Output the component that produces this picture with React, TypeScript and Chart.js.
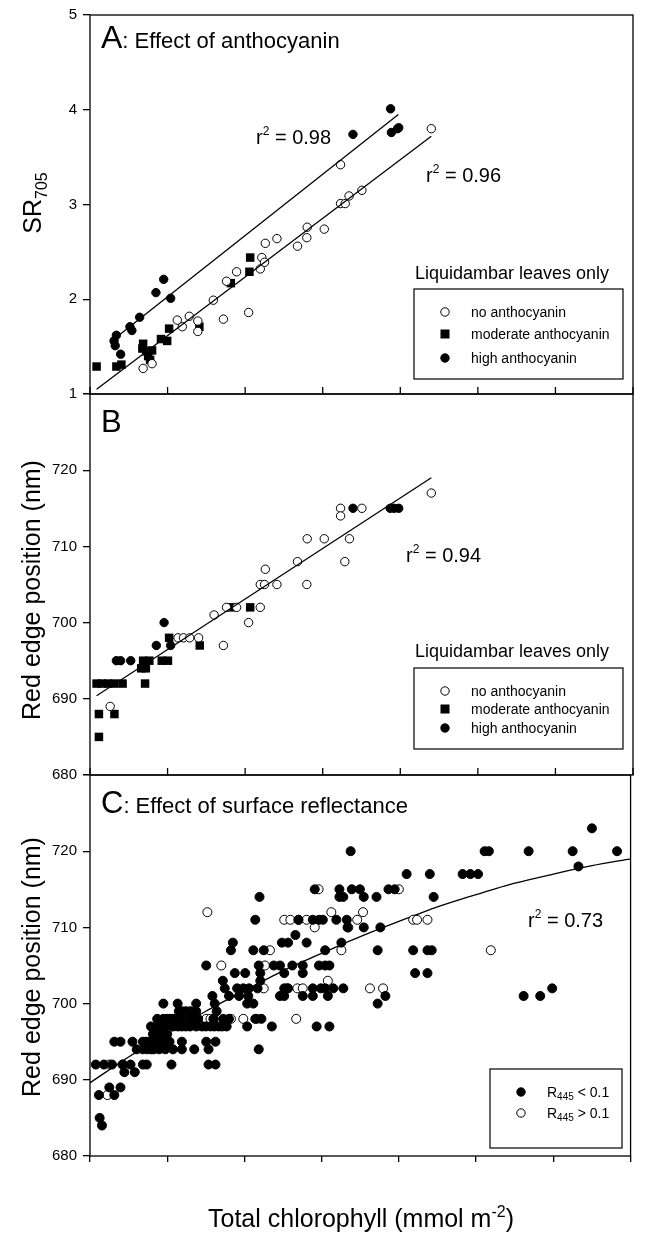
import React, { useEffect, useRef } from "react";
import { Chart, registerables } from "chart.js";
Chart.register(...registerables);

const FONT = '"Liberation Sans", Arial, Helvetica, sans-serif';

// ---------- tick labels ----------
const xTickValues = [0, 0.2, 0.4, 0.6, 0.8, 1.0, 1.2, 1.4];

// ---------- Panel A: SR705 vs chlorophyll ----------
const aNone: [number, number][] = [
  [0.137, 1.27], [0.16, 1.32], [0.225, 1.78], [0.238, 1.71], [0.256, 1.82], [0.278, 1.77], [0.278, 1.66],
  [0.318, 1.99], [0.344, 1.79], [0.352, 2.19], [0.378, 2.29], [0.409, 1.86], [0.439, 2.32], [0.443, 2.44],
  [0.45, 2.39], [0.452, 2.59], [0.482, 2.64], [0.535, 2.56], [0.559, 2.65], [0.56, 2.76], [0.604, 2.74],
  [0.646, 3.42], [0.646, 3.01], [0.658, 3.01], [0.668, 3.09], [0.701, 3.15], [0.88, 3.8],
];
const aModerate: [number, number][] = [
  [0.017, 1.29], [0.068, 1.29], [0.081, 1.31], [0.135, 1.48], [0.137, 1.53], [0.145, 1.45], [0.15, 1.4],
  [0.155, 1.36], [0.16, 1.46], [0.183, 1.58], [0.199, 1.56], [0.204, 1.69], [0.282, 1.71], [0.363, 2.17],
  [0.411, 2.29], [0.413, 2.44],
];
const aHigh: [number, number][] = [
  [0.062, 1.56], [0.065, 1.51], [0.068, 1.62], [0.079, 1.42], [0.103, 1.71], [0.108, 1.67], [0.128, 1.81],
  [0.17, 2.07], [0.19, 2.21], [0.208, 2.01], [0.678, 3.74], [0.775, 4.01], [0.777, 3.76], [0.793, 3.8],
  [0.796, 3.81],
];
const aFitHigh: [number, number][] = [[0.068, 1.6], [0.795, 3.95]];
const aFitNone: [number, number][] = [[0.017, 1.05], [0.88, 3.72]];

// ---------- Panel B: red edge vs chlorophyll (Liquidambar) ----------
const bNone: [number, number][] = [
  [0.052, 689], [0.227, 698], [0.241, 698], [0.257, 698], [0.28, 698], [0.32, 701], [0.344, 697],
  [0.352, 702], [0.378, 702], [0.409, 700], [0.439, 702], [0.439, 705], [0.45, 705], [0.452, 707],
  [0.482, 705], [0.535, 708], [0.559, 705], [0.56, 711], [0.604, 711], [0.646, 715], [0.646, 714],
  [0.657, 708], [0.669, 711], [0.701, 715], [0.88, 717],
];
const bModerate: [number, number][] = [
  [0.023, 688], [0.023, 685], [0.063, 688], [0.017, 692], [0.031, 692], [0.047, 692], [0.063, 692],
  [0.084, 692], [0.132, 694], [0.144, 694], [0.137, 695], [0.153, 695], [0.185, 695], [0.201, 695],
  [0.142, 692], [0.204, 698], [0.283, 697], [0.363, 702], [0.413, 702],
];
const bHigh: [number, number][] = [
  [0.068, 695], [0.079, 695], [0.105, 695], [0.171, 697], [0.191, 700], [0.208, 697], [0.678, 715],
  [0.774, 715], [0.784, 715], [0.796, 715],
];
const bFit: [number, number][] = [[0.017, 690.4], [0.88, 719.0]];

// ---------- Panel C: red edge vs chlorophyll (all leaves) ----------
const cLow: [number, number][] = [
  [0.675, 720], [1.022, 720], [1.033, 720], [1.136, 720], [1.25, 720], [1.365, 720], [1.3, 723], [1.265, 718],
  [0.82, 717], [0.88, 717], [0.965, 717], [0.985, 717], [1.005, 717],
  [0.582, 715], [0.646, 715], [0.678, 715], [0.699, 715], [0.773, 715], [0.789, 715],
  [0.439, 714], [0.646, 714], [0.656, 714], [0.709, 714], [0.742, 714], [0.89, 714],
  [0.428, 711], [0.54, 711], [0.577, 711], [0.593, 711], [0.603, 711], [0.638, 711], [0.665, 711],
  [0.667, 710], [0.709, 710], [0.752, 710], [0.532, 709],
  [0.37, 708], [0.497, 708], [0.513, 708], [0.561, 708], [0.651, 708],
  [0.365, 707], [0.423, 707], [0.45, 707], [0.609, 707], [0.745, 707], [0.837, 707], [0.874, 707], [0.885, 707],
  [0.301, 705], [0.437, 705], [0.476, 705], [0.492, 705], [0.524, 705], [0.551, 705], [0.593, 705], [0.609, 705], [0.62, 705],
  [0.375, 704], [0.402, 704], [0.441, 704], [0.503, 704], [0.551, 704], [0.842, 704], [0.874, 704],
  [0.344, 703], [0.441, 703],
  [0.349, 702], [0.381, 702], [0.397, 702], [0.412, 702], [0.434, 702], [0.503, 702], [0.513, 702], [0.577, 702],
  [0.598, 702], [0.609, 702], [0.63, 702], [0.656, 702], [1.197, 702],
  [0.317, 701], [0.36, 701], [0.386, 701], [0.41, 701], [0.492, 701], [0.503, 701], [0.551, 701], [0.577, 701],
  [0.616, 701], [0.765, 701], [1.123, 701], [1.166, 701],
  [0.19, 700], [0.227, 700], [0.275, 700], [0.323, 700], [0.407, 700], [0.423, 700], [0.745, 700],
  [0.238, 699], [0.248, 699], [0.26, 699], [0.275, 699], [0.328, 699], [0.23, 699],
  [0.174, 698], [0.19, 698], [0.206, 698], [0.222, 698], [0.238, 698], [0.259, 698], [0.28, 698], [0.32, 698],
  [0.345, 698], [0.36, 698], [0.428, 698], [0.444, 698], [0.2, 698], [0.215, 698], [0.27, 698],
  [0.158, 697], [0.175, 697], [0.19, 697], [0.2, 697], [0.216, 697], [0.238, 697], [0.259, 697], [0.275, 697],
  [0.29, 697], [0.3, 697], [0.312, 697], [0.333, 697], [0.354, 697], [0.407, 697], [0.471, 697], [0.587, 697], [0.62, 697],
  [0.228, 697], [0.248, 697], [0.322, 697], [0.342, 697],
  [0.163, 696], [0.185, 696], [0.19, 696], [0.2, 696], [0.175, 696],
  [0.063, 695], [0.079, 695], [0.11, 695], [0.137, 695], [0.153, 695], [0.174, 695], [0.206, 695], [0.238, 695],
  [0.301, 695], [0.325, 695], [0.145, 695], [0.165, 695], [0.19, 695],
  [0.121, 694], [0.137, 694], [0.158, 694], [0.165, 694], [0.179, 694], [0.195, 694], [0.238, 694], [0.27, 694],
  [0.307, 694], [0.437, 694], [0.148, 694], [0.215, 694],
  [0.015, 692], [0.036, 692], [0.057, 692], [0.084, 692], [0.105, 692], [0.137, 692], [0.147, 692], [0.211, 692],
  [0.307, 692], [0.325, 692],
  [0.089, 691], [0.116, 691], [0.05, 689], [0.079, 689], [0.023, 688], [0.063, 688], [0.025, 685], [0.031, 684],
];
const cHigh: [number, number][] = [
  [0.592, 715], [0.8, 715], [0.304, 712], [0.625, 712], [0.707, 712],
  [0.503, 711], [0.519, 711], [0.54, 711], [0.561, 711], [0.692, 711], [0.837, 711], [0.847, 711], [0.874, 711],
  [0.582, 710], [0.669, 710], [0.466, 707], [0.651, 707], [1.038, 707], [0.34, 705], [0.453, 705], [0.616, 703],
  [0.45, 702], [0.51, 702], [0.537, 702], [0.551, 702], [0.725, 702], [0.759, 702],
  [0.301, 698], [0.312, 698], [0.32, 698], [0.365, 698], [0.397, 698], [0.432, 698], [0.534, 698],
  [0.185, 697], [0.05, 692], [0.086, 692], [0.045, 688],
];
const cFitX = [0, 0.1, 0.2, 0.3, 0.4, 0.5, 0.6, 0.7, 0.8, 0.9, 1.0, 1.1, 1.2, 1.3, 1.4];
const cFitY = [689.6, 693.0, 696.1, 699.0, 701.7, 704.3, 706.6, 708.8, 710.8, 712.7, 714.3, 715.8, 717.0, 718.1, 719.0];

// ---------- helpers ----------
const xy = (arr: [number, number][]) => arr.map(([x, y]) => ({ x, y }));

type Seg = { t: string; s: number; dy?: number };
type TextSpec = { x: number; y: number; segs: Seg[]; align?: "left" | "center"; rot?: number };
type Entry = { kind: "open" | "filled" | "square"; y: number; segs: Seg[] };
type Decor = {
  texts: TextSpec[];
  box?: { x: number; y: number; w: number; h: number };
  entries?: Entry[];
  markerX?: number;
  textX?: number;
  innerTicks?: boolean;
};

function drawRich(ctx: CanvasRenderingContext2D, t: TextSpec) {
  ctx.save();
  ctx.translate(t.x, t.y);
  if (t.rot) ctx.rotate(t.rot);
  ctx.textBaseline = "alphabetic";
  ctx.textAlign = "left";
  const widths = t.segs.map((s) => {
    ctx.font = `${s.s}px ${FONT}`;
    return ctx.measureText(s.t).width;
  });
  const total = widths.reduce((a, b) => a + b, 0);
  let cx = t.align === "center" ? -total / 2 : 0;
  t.segs.forEach((s, i) => {
    ctx.font = `${s.s}px ${FONT}`;
    ctx.fillText(s.t, cx, s.dy || 0);
    cx += widths[i];
  });
  ctx.restore();
}

function drawMarker(ctx: CanvasRenderingContext2D, kind: string, x: number, y: number) {
  ctx.save();
  ctx.lineWidth = 1;
  ctx.strokeStyle = "#000";
  if (kind === "square") {
    ctx.fillStyle = "#000";
    ctx.fillRect(x - 4.5, y - 4.5, 9, 9);
  } else {
    ctx.beginPath();
    ctx.arc(x, y, 4.2, 0, Math.PI * 2);
    ctx.fillStyle = kind === "open" ? "#fff" : "#000";
    ctx.fill();
    ctx.stroke();
  }
  ctx.restore();
}

const makeDecor = (d: Decor) => ({
  id: "decor",
  afterDraw(chart: any) {
    const ctx: CanvasRenderingContext2D = chart.ctx;
    const ca = chart.chartArea;
    ctx.save();
    ctx.strokeStyle = "#000";
    ctx.fillStyle = "#000";
    ctx.lineWidth = 1.3;
    ctx.strokeRect(ca.left, ca.top, ca.right - ca.left, ca.bottom - ca.top);
    if (d.innerTicks) {
      const xs = chart.scales.x;
      xTickValues.forEach((v) => {
        const px = xs.getPixelForValue(v);
        ctx.beginPath();
        ctx.moveTo(px, ca.bottom);
        ctx.lineTo(px, ca.bottom - 7);
        ctx.stroke();
      });
    }
    d.texts.forEach((t) => drawRich(ctx, t));
    if (d.box) {
      ctx.lineWidth = 1.2;
      ctx.strokeRect(d.box.x, d.box.y, d.box.w, d.box.h);
    }
    (d.entries || []).forEach((e) => {
      drawMarker(ctx, e.kind, d.markerX!, e.y);
      drawRich(ctx, { x: d.textX!, y: e.y + 5, segs: e.segs });
    });
    ctx.restore();
  },
});

const pt = (kind: "open" | "filled" | "square", r = 4) =>
  kind === "square"
    ? { pointStyle: "rect", pointRadius: 6, backgroundColor: "#000", borderColor: "#000", borderWidth: 0 }
    : {
        pointStyle: "circle",
        pointRadius: r,
        backgroundColor: kind === "open" ? "#fff" : "#000",
        borderColor: "#000",
        borderWidth: 1,
      };

const fitLine = (data: { x: number; y: number }[], tension = 0) => ({
  data,
  showLine: true,
  pointRadius: 0,
  borderColor: "#000",
  borderWidth: 1.3,
  tension,
  fill: false,
});

type Spec = {
  top: number;
  bottom: number;
  yMin: number;
  yMax: number;
  yStep: number;
  hideTop: boolean;
  xLabels: boolean;
  datasets: any[];
  decor: Decor;
};

function buildChart(canvas: HTMLCanvasElement, s: Spec) {
  return new Chart(canvas, {
    type: "scatter",
    data: { datasets: s.datasets },
    options: {
      responsive: false,
      animation: false,
      events: [],
      layout: { padding: { left: 0, right: 13, top: s.top, bottom: 1234 - s.bottom } },
      plugins: { legend: { display: false }, tooltip: { enabled: false } },
      scales: {
        x: {
          type: "linear",
          min: 0,
          max: 1.4,
          position: "bottom",
          afterFit: (sc: any) => {
            sc.height = 0;
          },
          border: { display: false },
          grid: { display: s.xLabels, drawOnChartArea: false, drawTicks: true, tickLength: 6, color: "#000", lineWidth: 1.3 },
          ticks: {
            display: s.xLabels,
            stepSize: 0.2,
            autoSkip: false,
            maxRotation: 0,
            padding: 5,
            color: "#000",
            font: { family: FONT, size: 15 },
            callback: (v: any) => Number(v).toFixed(1),
          },
        },
        y: {
          type: "linear",
          min: s.yMin,
          max: s.yMax,
          afterFit: (sc: any) => {
            sc.width = 90;
          },
          border: { display: false },
          grid: { display: true, drawOnChartArea: false, drawTicks: true, tickLength: 7, color: "#000", lineWidth: 1.3 },
          ticks: {
            stepSize: s.yStep,
            autoSkip: false,
            padding: 6,
            color: "#000",
            font: { family: FONT, size: 15 },
            callback: (v: any) => (s.hideTop && v === s.yMax ? "" : String(v)),
          },
        },
      },
    } as any,
    plugins: [makeDecor(s.decor) as any],
  });
}

const r2 = (x: number, y: number, val: string): TextSpec => ({
  x,
  y,
  segs: [
    { t: "r", s: 20 },
    { t: "2", s: 12, dy: -9 },
    { t: " = " + val, s: 20 },
  ],
});

const redEdgeTitle = (cy: number): TextSpec => ({
  x: 40,
  y: cy,
  rot: -Math.PI / 2,
  align: "center",
  segs: [{ t: "Red edge position (nm)", s: 25 }],
});

const specA: Spec = {
  top: 13,
  bottom: 394,
  yMin: 1,
  yMax: 5,
  yStep: 1,
  hideTop: false,
  xLabels: false,
  datasets: [
    { ...fitLine(xy(aFitHigh)) },
    { ...fitLine(xy(aFitNone)) },
    { data: xy(aNone), ...pt("open", 4.2) },
    { data: xy(aModerate), ...pt("square") },
    { data: xy(aHigh), ...pt("filled", 4.2) },
  ],
  decor: {
    innerTicks: true,
    texts: [
      { x: 101, y: 48, segs: [{ t: "A", s: 32 }, { t: ": Effect of anthocyanin", s: 22 }] },
      r2(256, 144, "0.98"),
      r2(426, 182, "0.96"),
      { x: 415, y: 279, segs: [{ t: "Liquidambar leaves only", s: 18 }] },
      {
        x: 41,
        y: 203,
        rot: -Math.PI / 2,
        align: "center",
        segs: [
          { t: "SR", s: 25 },
          { t: "705", s: 16, dy: 6 },
        ],
      },
    ],
    box: { x: 414, y: 289, w: 209, h: 90 },
    markerX: 445,
    textX: 471,
    entries: [
      { kind: "open", y: 312, segs: [{ t: "no anthocyanin", s: 14 }] },
      { kind: "square", y: 334, segs: [{ t: "moderate anthocyanin", s: 14 }] },
      { kind: "filled", y: 358, segs: [{ t: "high anthocyanin", s: 14 }] },
    ],
  },
};

const specB: Spec = {
  top: 394,
  bottom: 775,
  yMin: 680,
  yMax: 730,
  yStep: 10,
  hideTop: true,
  xLabels: false,
  datasets: [
    { ...fitLine(xy(bFit)) },
    { data: xy(bNone), ...pt("open", 4.2) },
    { data: xy(bModerate), ...pt("square") },
    { data: xy(bHigh), ...pt("filled", 4.2) },
  ],
  decor: {
    innerTicks: true,
    texts: [
      { x: 101, y: 432, segs: [{ t: "B", s: 31 }] },
      r2(406, 562, "0.94"),
      { x: 415, y: 657, segs: [{ t: "Liquidambar leaves only", s: 18 }] },
      redEdgeTitle(590),
    ],
    box: { x: 414, y: 668, w: 209, h: 81 },
    markerX: 445,
    textX: 471,
    entries: [
      { kind: "open", y: 691, segs: [{ t: "no anthocyanin", s: 14 }] },
      { kind: "square", y: 709, segs: [{ t: "moderate anthocyanin", s: 14 }] },
      { kind: "filled", y: 728, segs: [{ t: "high anthocyanin", s: 14 }] },
    ],
  },
};

const specC: Spec = {
  top: 775,
  bottom: 1156,
  yMin: 680,
  yMax: 730,
  yStep: 10,
  hideTop: true,
  xLabels: true,
  datasets: [
    { data: xy(cLow), ...pt("filled", 4.5) },
    { data: xy(cHigh), ...pt("open", 4.5) },
    { ...fitLine(cFitX.map((x, i) => ({ x, y: cFitY[i] })), 0.3) },
  ],
  decor: {
    texts: [
      { x: 101, y: 813, segs: [{ t: "C", s: 31 }, { t: ": Effect of surface reflectance", s: 22 }] },
      r2(528, 927, "0.73"),
      redEdgeTitle(967),
      {
        x: 361,
        y: 1227,
        align: "center",
        segs: [
          { t: "Total chlorophyll (mmol m", s: 25 },
          { t: "-2", s: 16, dy: -10 },
          { t: ")", s: 25 },
        ],
      },
    ],
    box: { x: 490, y: 1069, w: 132, h: 79 },
    markerX: 521,
    textX: 547,
    entries: [
      { kind: "filled", y: 1092, segs: [{ t: "R", s: 14 }, { t: "445", s: 10, dy: 3 }, { t: " < 0.1", s: 14 }] },
      { kind: "open", y: 1113, segs: [{ t: "R", s: 14 }, { t: "445", s: 10, dy: 3 }, { t: " > 0.1", s: 14 }] },
    ],
  },
};

function Panel({ spec }: { spec: Spec }) {
  const ref = useRef<HTMLCanvasElement | null>(null);
  useEffect(() => {
    if (!ref.current) return;
    const chart = buildChart(ref.current, spec);
    return () => chart.destroy();
  }, [spec]);
  return (
    <canvas
      ref={ref}
      width={646}
      height={1234}
      style={{ position: "absolute", left: 0, top: 0, width: 646, height: 1234 }}
    />
  );
}

export default function App() {
  return (
    <div style={{ position: "absolute", left: 0, top: 0, width: 646, height: 1234, background: "#fff", overflow: "hidden" }}>
      <Panel spec={specA} />
      <Panel spec={specB} />
      <Panel spec={specC} />
    </div>
  );
}
